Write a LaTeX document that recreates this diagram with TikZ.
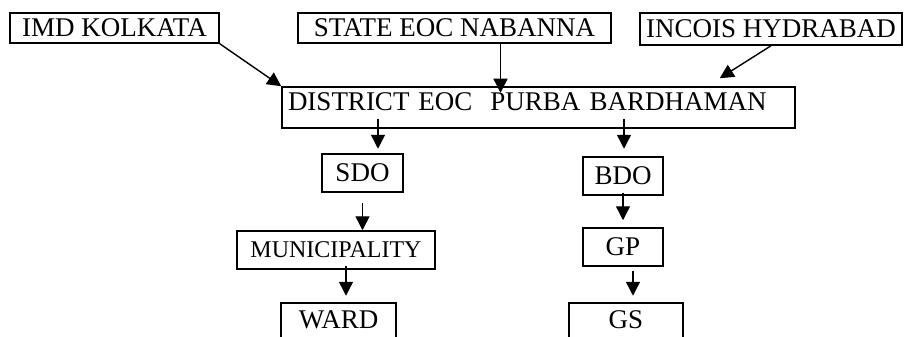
\documentclass[tikz,border=0pt]{standalone}
\usepackage{fontspec}
\setmainfont{Liberation Serif}
\usetikzlibrary{calc}
\usetikzlibrary{arrows.meta}
\tikzset{
    box/.style={draw, line width=1.5pt, inner sep=0pt, font=\fontsize{27}{30}\selectfont},
    openbox/.style={box, anchor=north, text height=26pt, text depth=40pt},
    arr/.style={line width=1.4pt, -{Triangle[length=14pt,width=14pt]}}
}
\begin{document}
\begin{tikzpicture}[x=1pt,y=-1pt]
                \useasboundingbox (0,0) rectangle (908,337);
                \clip (0,0) rectangle (908,337);

                \node[box, minimum width=209, minimum height=30] (imd) at (114.5,28) {IMD KOLKATA};
                \node[box, minimum width=313, minimum height=30] (state) at (454.5,28) {STATE EOC NABANNA};
                \node[box, minimum width=262, minimum height=32] (incois) at (771,29) {INCOIS HYDRABAD};

                \node[box, minimum height=41, text width=501pt, inner xsep=6pt, align=left,
                      text height=18pt, text depth=12pt] (district) at (538.5,107.5) {DISTRICT EOC\ \ PURBA BARDHAMAN};

                \node[box, minimum width=81, minimum height=38] (sdo) at (362.5,173) {SDO};
                \node[box, minimum width=80, minimum height=38] (bdo) at (623,176) {BDO};
                \node[box, minimum width=198, minimum height=38, font=\fontsize{24}{28}\selectfont] (muni) at (336,250) {MUNICIPALITY};
                \node[box, minimum width=80, minimum height=38] (gp) at (623,247) {GP};

                \node[openbox, minimum width=115] (ward) at (338.5,302) {WARD};
                \node[openbox, minimum width=114] (gs) at (626,302) {GS};

                \draw[arr] (imd.south east) -- (district.north west);
                \draw[arr] ([xshift=46pt]state.south) -- ++(0,49);
                \draw[arr] (incois.south) -- ([shift={(-76,-8)}]district.north east);

                \draw[arr] ([xshift=-160.5pt,yshift=10pt]district.south) -- ++(0,30);
                \draw[arr] ([xshift=85.5pt,yshift=10pt]district.south) -- ++(0,30);

                \draw[arr] ([yshift=-10pt]sdo.south) -- (sdo.south |- muni.north);
                \draw[arr] ([yshift=3pt]bdo.south) -- ([yshift=7pt]bdo.south |- gp.north);

                \draw[arr] ([xshift=10pt,yshift=4pt]muni.south) -- ++(0,30);
                \draw[arr] ([xshift=10pt,yshift=-4pt]gp.south) -- ++(0,25);
            \end{tikzpicture}
\end{document}
